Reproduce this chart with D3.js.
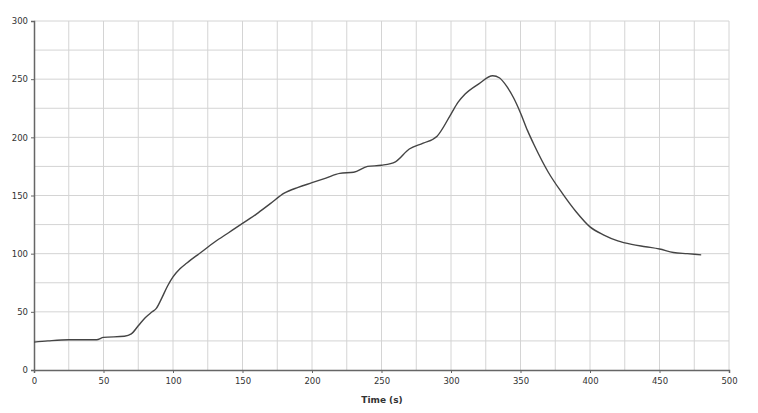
<!DOCTYPE html>
<html>
<head>
<meta charset="utf-8">
<script src="https://cdn.jsdelivr.net/npm/d3@7"></script>
<style>
  body { margin: 0; background: #fff; }
  text { font-family: "DejaVu Sans", sans-serif; }
</style>
</head>
<body>
<svg id="chart"></svg>
<script>
// Curve
const times = [0, 10, 25, 45, 50, 65, 70, 75, 80, 85, 88, 92, 96, 100, 105, 110, 120, 130, 140, 150,
  160, 170, 180, 190, 200, 210, 220, 230, 240, 250, 260, 270, 280, 290, 300, 305, 310, 320, 330,
  335, 340, 345, 350, 355, 360, 370, 380, 390, 400, 410, 420, 430, 440, 450, 460, 470, 480];
const values = [24, 25, 26, 26, 28, 29, 31, 38, 45, 50, 53, 62, 72, 80, 87, 92, 101, 110, 118, 126,
  134, 143, 152, 157, 161, 165, 169, 170, 175, 176, 179, 190, 195, 201, 220, 230, 237, 246, 253,
  251, 244, 234, 221, 206, 193, 170, 152, 136, 123, 116, 111, 108, 106, 104, 101, 100, 99];
const xTicks = [0, 50, 100, 150, 200, 250, 300, 350, 400, 450, 500];
const yTicks = [0, 50, 100, 150, 200, 250, 300];

const width = 758, height = 413;
const svg = d3.select("#chart").attr("width", width).attr("height", height);

const x = d3.scaleLinear().domain([0, 500]).range([34, 729]);
const y = d3.scaleLinear().domain([0, 300]).range([370, 21]);

// Grid every 25
const grid = svg.append("g");
grid.selectAll(".gx").data(d3.range(25, 501, 25)).enter().append("line")
  .attr("x1", d => x(d)).attr("x2", d => x(d)).attr("y1", y(0)).attr("y2", y(300))
  .attr("stroke", "#d4d4d4").attr("stroke-width", 1);
grid.selectAll(".gy").data(d3.range(25, 301, 25)).enter().append("line")
  .attr("x1", x(0)).attr("x2", x(500)).attr("y1", d => y(d)).attr("y2", d => y(d))
  .attr("stroke", "#d4d4d4").attr("stroke-width", 1);

const xAxis = svg.append("g").attr("transform", `translate(0,${y(0)})`)
  .call(d3.axisBottom(x).tickValues(xTicks).tickSize(3));
const yAxis = svg.append("g").attr("transform", `translate(${x(0)},0)`)
  .call(d3.axisLeft(y).tickValues(yTicks).tickSize(3));
[xAxis, yAxis].forEach(a => {
  a.select(".domain").attr("stroke", "#666").attr("stroke-width", 1.5);
  a.selectAll(".tick line").attr("stroke", "#666");
  a.selectAll("text").attr("font-size", 8.5).attr("fill", "#333");
});
xAxis.selectAll("text").attr("dy", "0.9em");

svg.append("text").attr("x", 382).attr("y", 403).attr("text-anchor", "middle")
  .attr("font-size", 9).attr("font-weight", "bold").attr("fill", "#333").text("Time (s)");

const line = d3.line().x((d, i) => x(times[i])).y(d => y(d)).curve(d3.curveMonotoneX);
svg.append("path").datum(values).attr("d", line)
  .attr("fill", "none").attr("stroke", "#444").attr("stroke-width", 1.4);
</script>
</body>
</html>
